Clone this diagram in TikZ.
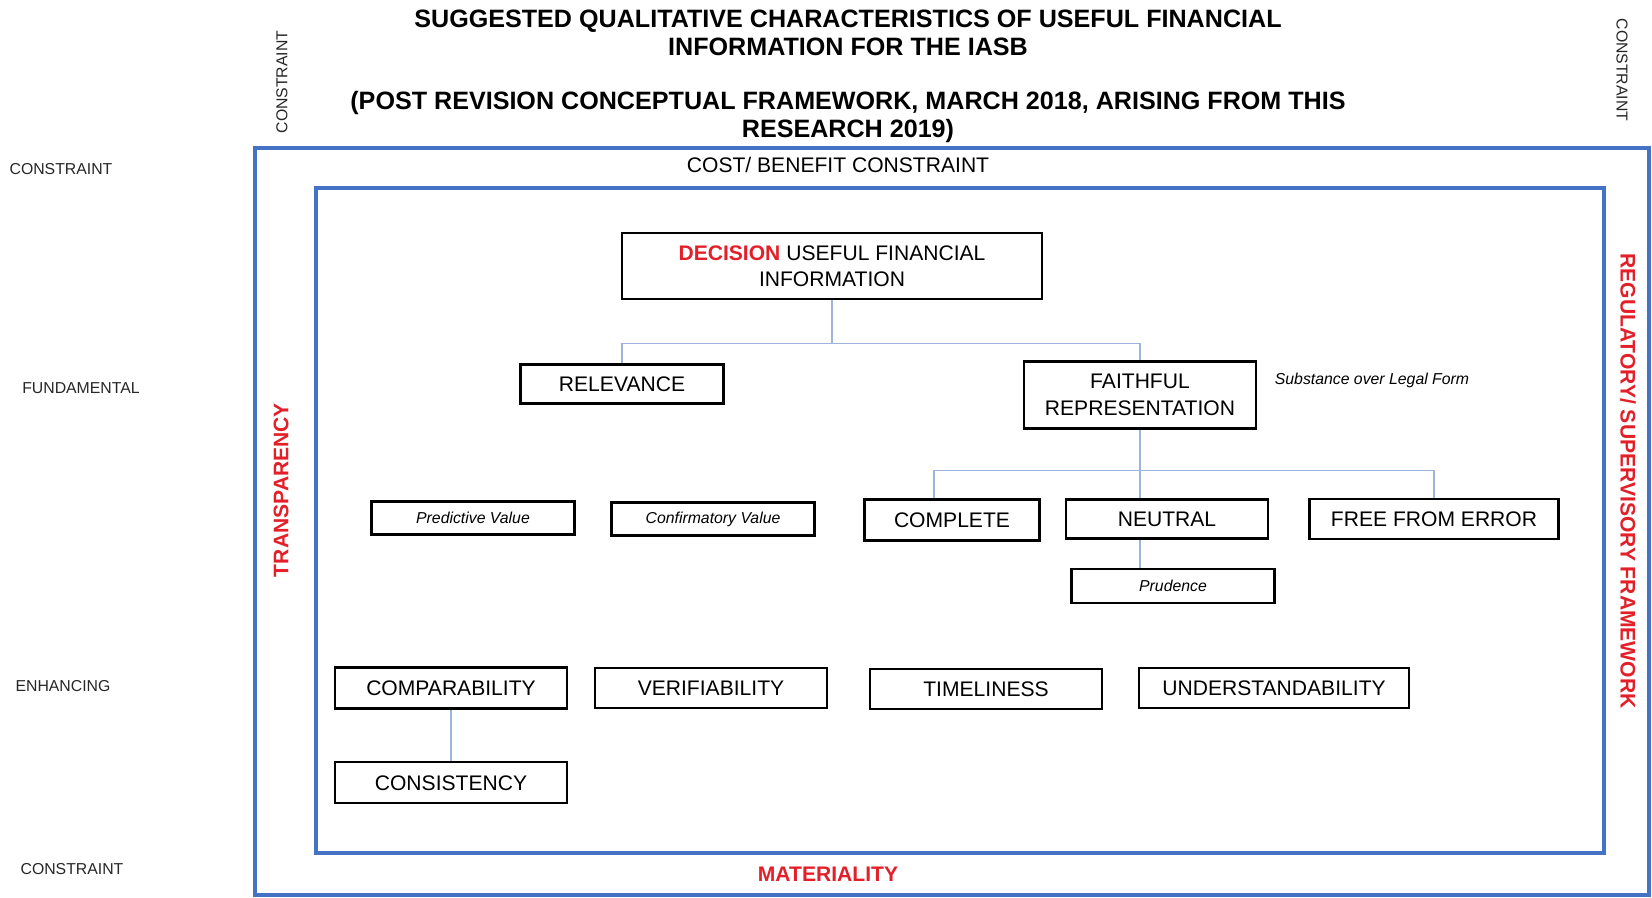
\documentclass[tikz,border=0pt]{standalone}
\usepackage{fontspec}
\setmainfont{Liberation Sans}
\usepackage{xcolor}
\usetikzlibrary{positioning}
\definecolor{frameblue}{HTML}{4472C4}
\definecolor{linkblue}{HTML}{9DB4DC}
\definecolor{alertred}{HTML}{E3202A}
\tikzstyle{box} = [rectangle, draw=black, line width=1.3pt, text centered, align=center, inner sep=2pt, font=\fontsize{12}{15}\selectfont]
\tikzstyle{subbox} = [box, font=\fontsize{9}{11}\selectfont\itshape]
\tikzstyle{link} = [draw=linkblue, line width=0.7pt]
\tikzstyle{outerframe} = [draw=frameblue, line width=1.8pt]
\tikzstyle{tier} = [font=\fontsize{9}{11}\selectfont, text=black!85]
\tikzstyle{redword} = [font=\fontsize{12}{14}\selectfont\bfseries, text=alertred]
\tikzstyle{heading} = [font=\fontsize{14.3}{15.8}\selectfont\bfseries, align=center]

\begin{document}
\begin{tikzpicture}[x=0.02cm, y=-0.02cm]
    \useasboundingbox (0,0) rectangle (1652,897);

    % Title
    \node (title) [heading] at (848,33) {SUGGESTED QUALITATIVE CHARACTERISTICS OF USEFUL FINANCIAL\\INFORMATION FOR THE IASB};
    \node (subtitle) [heading] at (848,117) {(POST REVISION CONCEPTUAL FRAMEWORK, MARCH 2018, ARISING FROM THIS\\RESEARCH 2019)};

    % Frames
    \draw [outerframe] (255,148) rectangle (1649,895);
    \draw [outerframe] (316,188) rectangle (1604,853);
    \node (costbenefit) [font=\fontsize{12}{14}\selectfont] at (838,165) {COST/ BENEFIT CONSTRAINT};

    % Level labels
    \node (constrtop) [tier] at (61,169) {CONSTRAINT};
    \node (fundamental) [tier] at (81,388) {FUNDAMENTAL};
    \node (enhancing) [tier] at (63,686) {ENHANCING};
    \node (constrbottom) [tier] at (72,869) {CONSTRAINT};
    \node (constrleft) [tier, rotate=90] at (282,82) {CONSTRAINT};
    \node (constrright) [tier, rotate=-90] at (1622,70) {CONSTRAINT};

    % Red constraints
    \node (transparency) [redword, rotate=90] at (281,490) {TRANSPARENCY};
    \node (regulatory) [redword, rotate=-90] at (1628,481) {REGULATORY/ SUPERVISORY FRAMEWORK};
    \node (materiality) [redword] at (828,874) {MATERIALITY};

    % Decision useful information
    \node (decision) [box, minimum width=8.4cm, minimum height=1.32cm] at (832,266) {{\bfseries\color{alertred}DECISION} USEFUL FINANCIAL\\INFORMATION};

    % Fundamental
    \node (relevance) [box, minimum width=4.06cm, minimum height=0.78cm] at (622,384) {RELEVANCE};
    \node (faithful) [box, minimum width=4.64cm, minimum height=1.34cm] at (1140,395) {FAITHFUL\\REPRESENTATION};
    \node (substance) [font=\fontsize{9}{11}\selectfont\itshape] at (1372,380) {Substance over Legal Form};

    % Sub-characteristics
    \node (predictive) [subbox, minimum width=4.06cm, minimum height=0.66cm] at (473,518) {Predictive Value};
    \node (confirmatory) [subbox, minimum width=4.06cm, minimum height=0.66cm] at (713,519) {Confirmatory Value};
    \node (complete) [box, minimum width=3.5cm, minimum height=0.82cm] at (952,520) {COMPLETE};
    \node (neutral) [box, minimum width=4.04cm, minimum height=0.78cm] at (1167,519) {NEUTRAL};
    \node (freeerror) [box, minimum width=4.98cm, minimum height=0.8cm] at (1434,519) {FREE FROM ERROR};
    \node (prudence) [subbox, minimum width=4.06cm, minimum height=0.68cm] at (1173,586) {Prudence};

    % Enhancing
    \node (comparability) [box, minimum width=4.64cm, minimum height=0.82cm] at (451,688) {COMPARABILITY};
    \node (verifiability) [box, minimum width=4.64cm, minimum height=0.8cm] at (711,688) {VERIFIABILITY};
    \node (timeliness) [box, minimum width=4.64cm, minimum height=0.8cm] at (986,689) {TIMELINESS};
    \node (understand) [box, minimum width=5.4cm, minimum height=0.8cm] at (1274,688) {UNDERSTANDABILITY};
    \node (consistency) [box, minimum width=4.64cm, minimum height=0.82cm, below=1.03cm of comparability] {CONSISTENCY};

    % Connectors
    \draw [link] (decision.south) -- ++(0,43) coordinate (railtop) -| (relevance.north);
    \draw [link] (railtop) -| (faithful.north);
    \draw [link] (faithful.south) -- ++(0,41) coordinate (railmid);
    \draw [link] (railmid) -| ([xshift=-0.36cm]complete.north);
    \draw [link] (railmid) -| (freeerror.north);
    \draw [link] (railmid) -- (railmid |- neutral.north);
    \draw [link] (railmid |- neutral.south) -- (railmid |- prudence.north);
    \draw [link] (comparability) -- (consistency);
\end{tikzpicture}
\end{document}
